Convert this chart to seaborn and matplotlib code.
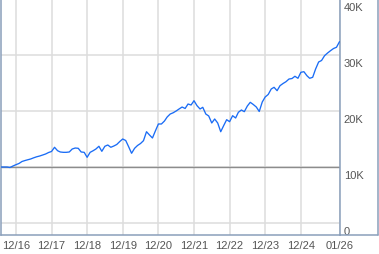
import matplotlib
matplotlib.use("Agg")
import matplotlib.pyplot as plt
import matplotlib.dates as mdates
from matplotlib.lines import Line2D
from matplotlib.transforms import ScaledTranslation
import seaborn as sns
import pandas as pd
import numpy as np

# ---- data (growth of 10K, monthly, Jul 2016 - Jan 2026) ----
start_month = "2016-07-01"
values = [
    # 2016 Jul-Dec
    10000, 10000, 10000, 9910, 10180, 10410,
    # 2017
    10625, 10980, 11140, 11290, 11430, 11640, 11820, 11960, 12140, 12320, 12590, 12770,
    # 2018
    13520, 12910, 12680, 12620, 12620, 12680, 13210, 13390, 13340, 12680, 12620, 11730,
    # 2019
    12620, 12910, 13210, 13700, 12800, 13700, 13930, 13520, 13750, 14020, 14550, 15000,
    # 2020
    14730, 13570, 12450, 13340, 13840, 14200, 14700, 16300, 15710, 15180, 16480, 17680,
    # 2021
    17680, 18210, 18930, 19460, 19680, 20000, 20360, 20710, 20450, 21250, 21070, 21840,
    # 2022
    20950, 20360, 20660, 19460, 19110, 17860, 18570, 17860, 16300, 17380, 18450, 18090,
    # 2023
    19160, 18750, 19770, 20180, 19880, 20890, 21550, 21160, 20710, 19910, 21610, 22500,
    # 2024
    22950, 23930, 24230, 23630, 24520, 24910, 25230, 25710, 25800, 26200, 25840, 26910,
    # 2025
    27020, 26300, 25840, 26020, 27500, 28750, 29020, 29880, 30360, 30770, 31160, 31380,
    # 2026
    32380,
]
x_ticks = ["2016-12-01", "2017-12-01", "2018-12-01", "2019-12-01", "2020-12-01",
           "2021-12-01", "2022-12-01", "2023-12-01", "2024-12-01", "2026-01-01"]
y_ticks = [0, 10000, 20000, 30000, 40000]
y_labels = ["0", "10K", "20K", "30K", "40K"]
baseline = 10000

dates = pd.date_range(start_month, periods=len(values), freq="MS")
df = pd.DataFrame({"date": dates, "value": values})

sns.set_style("white")
plt.rcParams["font.family"] = ["Liberation Sans", "DejaVu Sans"]

W, H = 379, 255
fig = plt.figure(figsize=(W / 100, H / 100), dpi=100)
ax_left, ax_right, ax_bottom = 1.0, 339.5, 235.5
ax = fig.add_axes([ax_left / W, 1 - ax_bottom / H, (ax_right - ax_left) / W, ax_bottom / H])

frame_col = "#8a9fbb"
grid_col = "#dddddd"

ax.set_xlim(pd.Timestamp("2016-07-01"), pd.Timestamp("2026-01-01"))
ax.set_ylim(-2054, 40000)

ax.set_xticks(pd.to_datetime(x_ticks))
ax.xaxis.set_major_formatter(mdates.DateFormatter("%m/%y"))
ax.set_yticks(y_ticks)
ax.set_yticklabels(y_labels)
ax.yaxis.tick_right()

ax.grid(True, color=grid_col, linewidth=1.1)
ax.set_axisbelow(True)

ax.axhline(baseline, color="#8c8c8c", linewidth=1.0, zorder=1.5)

sns.lineplot(data=df, x="date", y="value", ax=ax, color="#1a6cf5", linewidth=0.95, zorder=3)
ax.set_xlabel("")
ax.set_ylabel("")

for s in ["left", "right", "bottom"]:
    ax.spines[s].set_color(frame_col)
    ax.spines[s].set_linewidth(1.1)
ax.spines["top"].set_visible(False)

ax.tick_params(axis="both", length=0, labelsize=8, labelcolor="#555555")
ax.tick_params(axis="x", pad=4)
ax.tick_params(axis="y", pad=3)
for lab in ax.get_yticklabels():
    lab.set_verticalalignment("top")
    lab.set_horizontalalignment("left")
    lab.set_transform(lab.get_transform() + ScaledTranslation(0, -3 / 100, fig.dpi_scale_trans))

# outer frame around the label column
fig.add_artist(Line2D([ax_right / W, 377.8 / W], [1 - ax_bottom / H, 1 - ax_bottom / H],
                      color=frame_col, linewidth=1.1, transform=fig.transFigure))
fig.add_artist(Line2D([377.8 / W, 377.8 / W], [1 - ax_bottom / H, 1.0],
                      color=frame_col, linewidth=1.1, transform=fig.transFigure))

fig.savefig("out.png", dpi=100)
